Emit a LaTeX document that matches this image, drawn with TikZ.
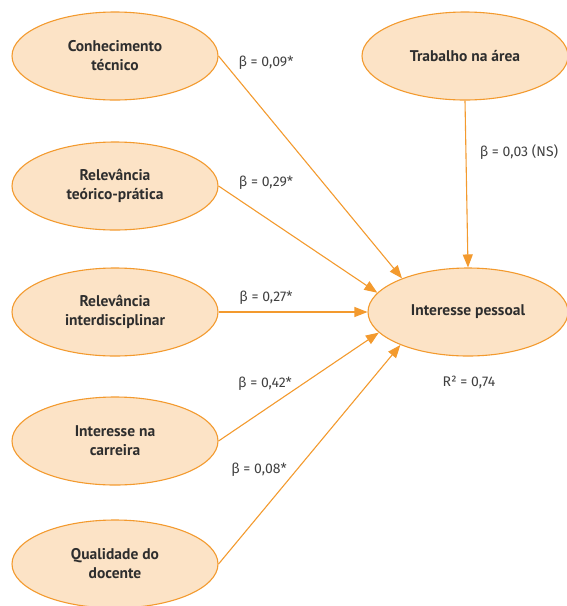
\documentclass[tikz,border=0pt]{standalone}
\usepackage{fontspec}
\setmainfont{PT Sans}
\newfontfamily\lblfont{Fira Sans}
\usetikzlibrary{shapes.geometric,arrows.meta}
\definecolor{peach}{HTML}{FCE3C6}
\definecolor{orng}{HTML}{F39A2E}
\definecolor{txt}{HTML}{2E2E2E}
\definecolor{lbl}{HTML}{404040}
\tikzset{
  var/.style={ellipse,draw=orng,fill=peach,line width=1.1pt,inner sep=0pt,
    minimum width=206pt,minimum height=88pt,align=center,text=txt,
    font=\bfseries\fontsize{15.5}{19}\selectfont},
  path/.style={draw=orng,line width=1.1pt,-{Triangle[length=13pt,width=10pt]}},
  coef/.style={text=lbl,font=\lblfont\fontsize{14}{16}\selectfont,inner sep=0pt}
}
\begin{document}
\begin{tikzpicture}[x=1pt,y=-1pt]
\useasboundingbox (0,0) rectangle (566,606);
\node[var] (ck) at (115,56) {Conhecimento\\técnico};
\node[var] (rt) at (115,186) {Relevância\\teórico-prática};
\node[var] (ri) at (115,312) {Relevância\\interdisciplinar};
\node[var] (ic) at (115,441) {Interesse na\\carreira};
\node[var] (qd) at (115,564) {Qualidade do\\docente};
\node[var] (ta) at (465,56) {Trabalho na área};
\node[var,minimum width=200pt] (ip) at (468,312) {Interesse pessoal};
\draw[path] (ck.east) -- (ip.153);
\draw[path] (rt.east) -- (ip.168);
\draw[path] (ri.east) -- (ip.180);
\draw[path] (ic.east) -- (ip.193);
\draw[path] (qd.east) -- (ip.206);
\draw[path] (ta.south) -- (ip.north);
\node[coef] (l1) at (266,63) {β = 0,09*};
\node[coef] (l2) at (266,183) {β = 0,29*};
\node[coef] (l3) at (266,298) {β = 0,27*};
\node[coef] (l4) at (265,384) {β = 0,42*};
\node[coef] (l5) at (259,470) {β = 0,08*};
\node[coef] (l6) at (519,152) {β = 0,03 (NS)};
\node[coef] (l7) at (469,382) {R² = 0,74};
\end{tikzpicture}
\end{document}
